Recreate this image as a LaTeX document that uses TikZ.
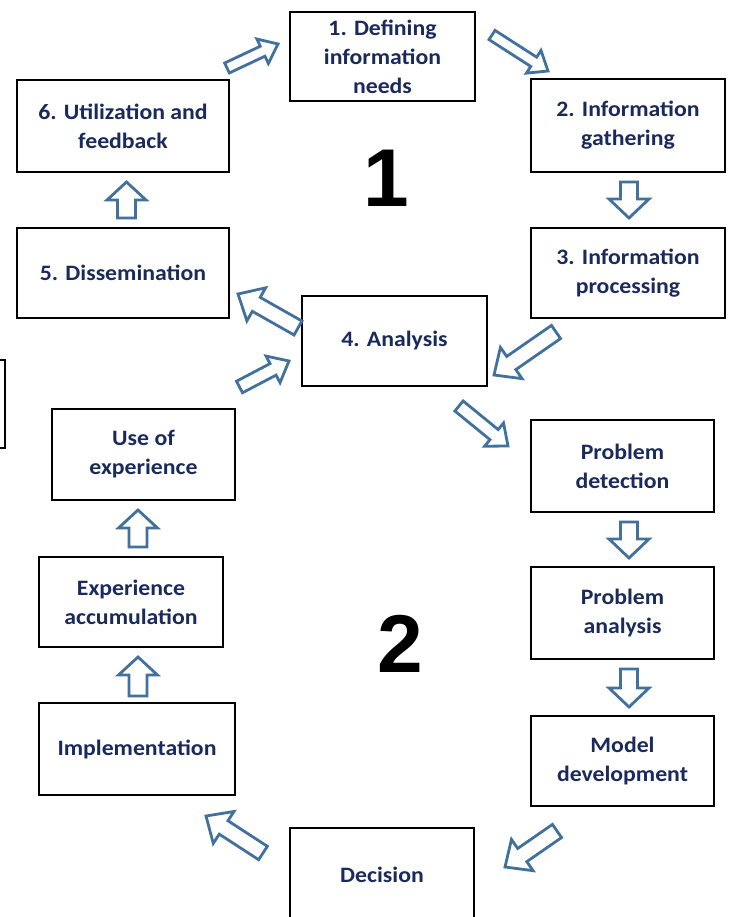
\documentclass[tikz,border=0pt]{standalone}
\usepackage{fontspec}
\setmainfont{Carlito}[FakeStretch=1.08]
\newfontfamily\numfont{Liberation Sans}
\usetikzlibrary{calc}
\definecolor{navy}{RGB}{26,42,92}
\definecolor{steel}{RGB}{65,113,156}
\tikzset{
  box/.style={draw=black, line width=2.5pt, fill=white, inner sep=2pt, align=center,
    text=navy, font=\fontsize{22}{29}\selectfont\bfseries},
  blockarr/.style={draw=steel, line width=2.8pt, fill=white, line join=miter},
  bignum/.style={font=\numfont\fontsize{82}{82}\selectfont\bfseries, inner sep=0pt, anchor=base}
}
% #1 half shaft width, #2 half head width, #3 head length, #4 tail, #5 tip
\newcommand\barrow[5]{%
  \coordinate (hb) at ($(#5)!#3pt!(#4)$);
  \draw[blockarr] ($(#4)!#1pt!90:(#5)$) -- ($(hb)!#1pt!-90:(#4)$) -- ($(hb)!#2pt!-90:(#4)$)
    -- (#5) -- ($(hb)!#2pt!90:(#4)$) -- ($(hb)!#1pt!90:(#4)$) -- ($(#4)!#1pt!-90:(#5)$) -- cycle;}
\begin{document}
\begin{tikzpicture}[x=1pt,y=-1pt]
\fill[white] (0,0) rectangle (732,917);
\useasboundingbox (0,0) rectangle (732,917);
% boxes
\node[box, minimum width=185, minimum height=89] (b1) at (382.5,56.5) {1. Defining\\information\\needs};
\node[box, minimum width=212, minimum height=92] (b6) at (123,126) {6. Utilization and\\feedback};
\node[box, minimum width=212, minimum height=90] (b5) at (123,273) {5. Dissemination};
\node[box, minimum width=194, minimum height=93] (b2) at (628,125.5) {2. Information\\gathering};
\node[box, minimum width=194, minimum height=90] (b3) at (628,273) {3. Information\\processing};
\node[box, minimum width=185, minimum height=90] (b4) at (394.5,341) {4. Analysis};
\node[box, minimum width=190, minimum height=88] (bx) at (-90,404) {};
\node[box, minimum width=183, minimum height=91] (ue) at (143.5,454.5) {Use of\\experience};
\node[box, minimum width=184, minimum height=90] (ea) at (131,602) {Experience\\accumulation};
\node[box, minimum width=196, minimum height=92] (im) at (137,749) {Implementation};
\node[box, minimum width=184, minimum height=94] (de) at (382,875) {Decision};
\node[box, minimum width=183, minimum height=92] (pd) at (622.5,466) {Problem\\detection};
\node[box, minimum width=183, minimum height=92] (pa) at (622.5,613) {Problem\\analysis};
\node[box, minimum width=183, minimum height=90] (md) at (622.5,761) {Model\\development};
% big numbers
\node[bignum] (n1) at (386,207) {1};
\node[bignum] (n2) at (400,672) {2};
% arrow end points
\coordinate (t61) at (227,68);   \coordinate (h61) at (278,44);
\coordinate (t12) at (492,35);   \coordinate (h12) at (548,71);
\coordinate (t23) at (629,182);  \coordinate (h23) at (629,218);
\coordinate (t34) at (556,332);  \coordinate (h34) at (494,375);
\coordinate (t45) at (298,328);  \coordinate (h45) at (238,294);
\coordinate (t56) at (126.5,218);\coordinate (h56) at (126.5,182);
\coordinate (tu4) at (239.5,387);\coordinate (hu4) at (289,361);
\coordinate (t4p) at (459,406);  \coordinate (h4p) at (508,446);
\coordinate (tpd) at (629,522);  \coordinate (hpd) at (629,558);
\coordinate (tpa) at (629,669);  \coordinate (hpa) at (629,707);
\coordinate (tmd) at (557,831);  \coordinate (hmd) at (505,867);
\coordinate (tdi) at (263,853);  \coordinate (hdi) at (206,816);
\coordinate (tea) at (138,696);  \coordinate (hea) at (138,657);
\coordinate (tue) at (138,547);  \coordinate (hue) at (138,510);
% arrows
\barrow{5.5}{13.5}{17}{t61}{h61}
\barrow{5.5}{13.5}{17}{t12}{h12}
\barrow{8.5}{20}{19}{t23}{h23}
\barrow{8}{19}{21}{t34}{h34}
\barrow{8}{19}{21}{t45}{h45}
\barrow{9}{19.5}{18}{t56}{h56}
\barrow{6.5}{15}{18}{tu4}{hu4}
\barrow{6.5}{15}{18}{t4p}{h4p}
\barrow{8.5}{20}{19}{tpd}{hpd}
\barrow{8.5}{20}{19}{tpa}{hpa}
\barrow{8}{19}{21}{tmd}{hmd}
\barrow{8}{19}{21}{tdi}{hdi}
\barrow{9}{19.5}{18}{tea}{hea}
\barrow{9}{19.5}{18}{tue}{hue}
\end{tikzpicture}
\end{document}
